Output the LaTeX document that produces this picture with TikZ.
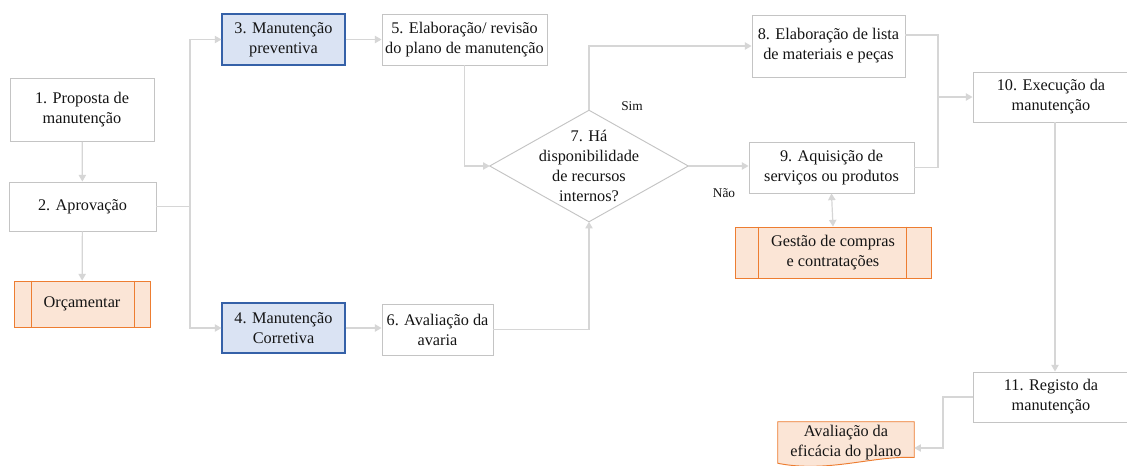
\documentclass[tikz,border=0pt]{standalone}
\usepackage{fontspec}
\setmainfont{Liberation Serif}
\usetikzlibrary{arrows.meta,calc}

\definecolor{boxline}{HTML}{C4C4C4}
\definecolor{conn}{HTML}{D6D6D6}
\definecolor{bluefill}{HTML}{DAE3F3}
\definecolor{blueline}{HTML}{3561A8}
\definecolor{orangefill}{HTML}{FBE5D6}
\definecolor{orangeline}{HTML}{ED7D31}
\definecolor{ink}{HTML}{141414}

\tikzset{
  px/.style={x=0.75pt,y=-0.75pt},
  base/.style={inner sep=0pt, align=center, text=ink,
    font=\rmfamily\fontsize{12.2}{15}\selectfont},
  stepbox/.style 2 args={base, rectangle, draw=boxline, line width=0.7pt, fill=white,
    minimum width=#1*0.75pt, minimum height=#2*0.75pt},
  typebox/.style 2 args={base, rectangle, draw=blueline, line width=0.8pt, fill=bluefill,
    minimum width=#1*0.75pt, minimum height=#2*0.75pt},
  subproc/.style 2 args={base, rectangle, draw=orangeline, line width=0.7pt, fill=orangefill,
    minimum width=#1*0.75pt, minimum height=#2*0.75pt},
  blank/.style 2 args={base, rectangle, draw=none,
    minimum width=#1*0.75pt, minimum height=#2*0.75pt},
  line/.style={draw=conn, line width=0.9pt},
  arr/.style={line, -{Triangle[width=5.5pt,length=5pt]}},
  darr/.style={line, {Triangle[width=5.5pt,length=5pt]}-{Triangle[width=5.5pt,length=5pt]}},
  tag/.style={text=ink, inner sep=0pt, font=\rmfamily\fontsize{10}{12}\selectfont},
}

\begin{document}
\begin{tikzpicture}[px]
\useasboundingbox (0,0) rectangle (1127,465);
\clip (0,0) rectangle (1127,465);
\fill[white] (0,0) rectangle (1127,465);

% left column
\node[stepbox={144}{63}] (b1) at (82,110) {1. Proposta de\\manutenção};
\node[stepbox={147}{49}] (b2) at (82.5,206.5) {2. Aprovação};
\node[subproc={136}{46}] (orc) at (82,304) {Orçamentar};
\draw[orangeline, line width=0.7pt]
  ($(orc.north west)+(17.5,0)$) -- ($(orc.south west)+(17.5,0)$)
  ($(orc.north east)+(-16.5,0)$) -- ($(orc.south east)+(-16.5,0)$);

% maintenance types
\node[typebox={123}{51}] (b3) at (283.5,39.5) {3. Manutenção\\preventiva};
\node[typebox={123}{50}] (b4) at (283.5,328) {4. Manutenção\\Corretiva};

\node[stepbox={165}{51}] (b5) at (464.5,39.5) {5. Elaboração/ revisão\\do plano de manutenção};
\node[stepbox={111}{51}] (b6) at (437.5,329.5) {6. Avaliação da\\avaria};

% decision
\node[blank={198}{111}] (d) at (589,166) {7. Há\\disponibilidade\\de recursos\\internos?};
\draw[boxline, line width=0.7pt] (d.west) -- (d.north) -- (d.east) -- (d.south) -- cycle;
\node[tag] (sim) at (632,106) {Sim};
\node[tag] (nao) at (724,193) {Não};

\node[stepbox={153}{62}] (b8) at (828.5,46) {8. Elaboração de lista\\de materiais e peças};
\node[stepbox={165}{51}] (b9) at (831.5,167.5) {9. Aquisição de\\serviços ou produtos};
\node[subproc={196}{51}] (gc) at (833,252.5) {Gestão de compras\\e contratações};
\draw[orangeline, line width=0.7pt]
  ($(gc.north west)+(24,0)$) -- ($(gc.south west)+(24,0)$)
  ($(gc.north east)+(-25,0)$) -- ($(gc.south east)+(-25,0)$);

\node[stepbox={156}{50}] (b10) at (1051,97) {10. Execução da\\manutenção};
\node[stepbox={156}{50}] (b11) at (1051,397) {11. Registo da\\manutenção};

% evaluation document (wavy lower edge)
\node[blank={136}{43}] (av) at (846,443.5) {};
\fill[orangefill] (av.north west) -- (av.north east) -- ($(av.east)+(0,14)$)
  .. controls ($(av.south east)+(-40,-10)$) and ($(av.south west)+(50,8)$) .. ($(av.south west)+(0,-2)$) -- cycle;
\draw[orangeline, line width=0.7pt] ($(av.south west)+(0,-2)$) -- (av.north west) -- (av.north east) -- ($(av.east)+(0,14)$)
  .. controls ($(av.south east)+(-40,-10)$) and ($(av.south west)+(50,8)$) .. ($(av.south west)+(0,-2)$);
\node[base] at ($(av.center)+(0,-1)$) {Avaliação da\\eficácia do plano};

% connectors
\coordinate (split) at (190,206.5);
\coordinate (merge) at (938,97);
\coordinate (back) at (943,448);

\draw[arr] (b1) -- (b2);
\draw[arr] (b2) -- (orc);
\draw[line] (b2.east) -- (split);
\draw[arr] (split) |- (b3.west);
\draw[arr] (split) |- (b4.west);
\draw[arr] (b3.east) -- (b5.west);
\draw[arr] (b4.east) -- (b6.west |- b4.east);
\draw[arr] (b5.south) |- (d.west);
\draw[arr] (b6.east) -| (d.south);
\draw[arr] (d.north) |- (b8.west);
\draw[arr] (d.east) -- (b9.west |- d.east);
\draw[line] ([yshift=8.25pt]b8.east) -| (merge);
\draw[line] (b9.east) -| (merge);
\draw[arr] (merge) -- (b10.west |- merge);
\draw[darr] (b9.south) -- (gc.north);
\draw[arr] ([xshift=3pt]b10.south) -- ([xshift=3pt]b11.north);
\draw[arr] (b11.west) -| (back) -- (av.east |- back);
\end{tikzpicture}
\end{document}
